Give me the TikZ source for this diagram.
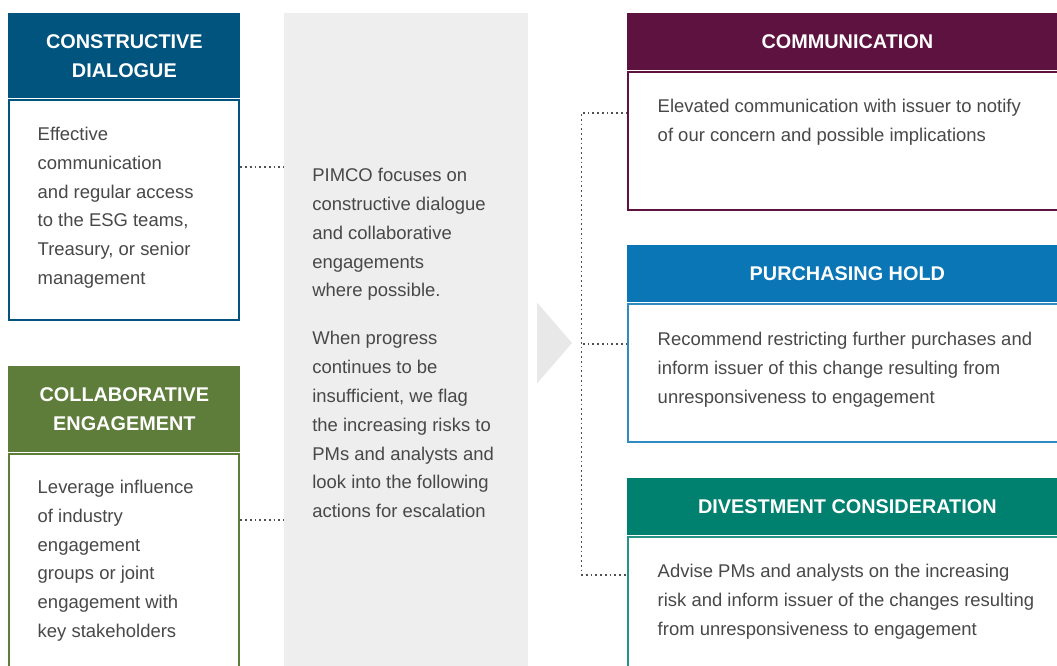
\documentclass[tikz,border=0pt]{standalone}
\usepackage{fontspec}
\setmainfont{Liberation Sans}
\usetikzlibrary{positioning}
\definecolor{escblue}{RGB}{0,84,126}
\definecolor{escgreen}{RGB}{95,125,58}
\definecolor{escplum}{RGB}{94,18,64}
\definecolor{escsky}{RGB}{10,118,182}
\definecolor{escteal}{RGB}{0,128,110}
\definecolor{escpanel}{RGB}{238,238,238}
\definecolor{escchev}{RGB}{232,232,232}
\definecolor{esctext}{RGB}{72,72,72}
\definecolor{escgray}{RGB}{80,80,80}
\tikzset{
  headbox/.style={
    rectangle,
    anchor=north west,
    inner sep=0pt,
    align=center,
    text=white,
    font=\fontsize{11.3}{16.4}\selectfont\bfseries
  },
  bodybox/.style={
    rectangle,
    fill=white,
    line width=1.1pt,
    inner sep=0pt
  },
  bodytext/.style={
    align=left,
    inner sep=0pt,
    text=esctext,
    font=\fontsize{10.5}{16.4}\selectfont
  },
  link/.style={draw=escgray, line width=1pt, dash pattern=on 1pt off 1.7pt}
}

\begin{document}
\begin{tikzpicture}
  \useasboundingbox (0,0) rectangle (21.14,-13.32);
  \clip (0,0) rectangle (21.14,-13.32);

  % left cards
  \node[headbox, fill=escblue, minimum width=4.64cm, minimum height=1.7cm] (cdhead) at (0.16,-0.26) {CONSTRUCTIVE\\DIALOGUE};
  \node[bodybox, draw=escblue, minimum width=4.6cm, minimum height=4.4cm, below=0pt of cdhead] (cdbody) {};
  \node[bodytext, below right=0.56cm and 0.58cm of cdbody.north west] (cdtext) {Effective\\communication\\and regular access\\to the ESG teams,\\Treasury, or senior\\management};

  \node[headbox, fill=escgreen, minimum width=4.64cm, minimum height=1.72cm] (cehead) at (0.16,-7.32) {COLLABORATIVE\\ENGAGEMENT};
  \node[bodybox, draw=escgreen, minimum width=4.6cm, minimum height=4.4cm, below=0pt of cehead] (cebody) {};
  \node[bodytext, below right=0.54cm and 0.58cm of cebody.north west] (cetext) {Leverage influence\\of industry\\engagement\\groups or joint\\engagement with\\key stakeholders};

  % middle panel
  \node[rectangle, fill=escpanel, inner sep=0pt, anchor=north west, minimum width=4.88cm, minimum height=13.3cm] (panel) at (5.68,-0.26) {};
  \node[bodytext, below right=3.1cm and 0.56cm of panel.north west] (pfocus) {PIMCO focuses on\\constructive dialogue\\and collaborative\\engagements\\where possible.};
  \node[bodytext, below right=6.36cm and 0.56cm of panel.north west] (pescal) {When progress\\continues to be\\insufficient, we flag\\the increasing risks to\\PMs and analysts and\\look into the following\\actions for escalation};
  \fill[escchev] (10.74,-6.05) -- (11.44,-6.86) -- (10.74,-7.67) -- cycle;

  % right cards
  \node[headbox, fill=escplum, minimum width=8.8cm, minimum height=1.14cm] (cmhead) at (12.54,-0.26) {COMMUNICATION};
  \node[bodybox, draw=escplum, minimum width=8.76cm, minimum height=2.76cm, below=0pt of cmhead] (cmbody) {};
  \node[bodytext, below right=0.56cm and 0.6cm of cmbody.north west] (cmtext) {Elevated communication with issuer to notify\\of our concern and possible implications};

  \node[headbox, fill=escsky, minimum width=8.8cm, minimum height=1.14cm] (phhead) at (12.54,-4.9) {PURCHASING HOLD};
  \node[bodybox, draw=escsky!85!white, minimum width=8.76cm, minimum height=2.76cm, below=0pt of phhead] (phbody) {};
  \node[bodytext, below right=0.58cm and 0.6cm of phbody.north west] (phtext) {Recommend restricting further purchases and\\inform issuer of this change resulting from\\unresponsiveness to engagement};

  \node[headbox, fill=escteal, minimum width=8.8cm, minimum height=1.14cm] (dvhead) at (12.54,-9.56) {DIVESTMENT CONSIDERATION};
  \node[bodybox, draw=escteal!85!white, minimum width=8.76cm, minimum height=2.76cm, below=0pt of dvhead] (dvbody) {};
  \node[bodytext, below right=0.56cm and 0.6cm of dvbody.north west] (dvtext) {Advise PMs and analysts on the increasing\\risk and inform issuer of the changes resulting\\from unresponsiveness to engagement};

  % dotted links
  \coordinate[below=1.36cm of cdbody.north east] (cdout);
  \coordinate[below=1.34cm of cebody.north east] (ceout);
  \draw[link] (cdout) -- (cdout -| panel.west);
  \draw[link] (ceout) -- (ceout -| panel.west);

  \coordinate[below=0.84cm of cmbody.north west] (cmin);
  \coordinate[below=0.82cm of phbody.north west] (phin);
  \coordinate[below=0.78cm of dvbody.north west] (dvin);
  \coordinate[left=0.92cm of phin] (spine);
  \draw[link] (cmin) -- (cmin -| spine) -- (dvin -| spine) -- (dvin);
  \draw[link] (phin) -- (spine);
\end{tikzpicture}
\end{document}
